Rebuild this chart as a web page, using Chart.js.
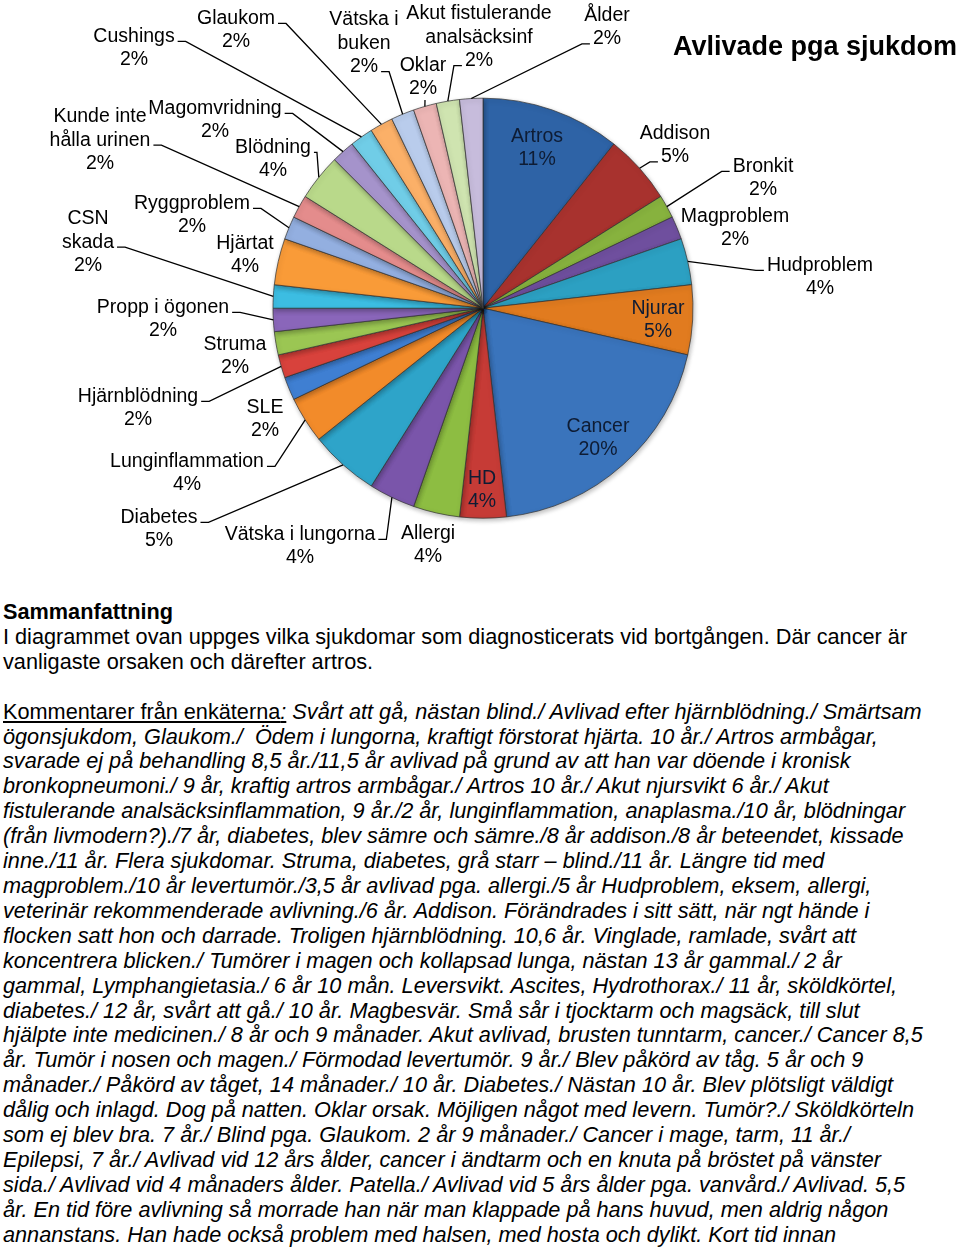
<!DOCTYPE html>
<html lang="sv">
<head>
<meta charset="utf-8">
<title>Avlivade pga sjukdom</title>
<script src="https://cdn.jsdelivr.net/npm/chart.js@4.4.1/dist/chart.umd.min.js"></script>
<style>
  html, body { margin: 0; padding: 0; background: #fff; }
  body { width: 960px; height: 1247px; overflow: hidden; position: relative;
         font-family: "Liberation Sans", Arial, sans-serif; color: #000; }
  #wrap { position: absolute; left: 0; top: 0; width: 960px; height: 590px; }
  #text { position: absolute; left: 3px; top: 600px; font-size: 21.7px; line-height: 24.92px; }
  #text div { white-space: pre; height: 24.92px; }
  #text .c { font-style: italic; }
</style>
</head>
<body>
<div id="wrap"><canvas id="pie" width="960" height="590"></canvas></div>

<div id="text">
<div><b>Sammanfattning</b></div>
<div>I diagrammet ovan uppges vilka sjukdomar som diagnosticerats vid bortgången. Där cancer är</div>
<div>vanligaste orsaken och därefter artros.</div>
<div></div>
<div><u>Kommentarer från enkäterna</u><i><u>:</u> Svårt att gå, nästan blind./ Avlivad efter hjärnblödning./ Smärtsam</i></div>
<div class="c">ögonsjukdom, Glaukom./  Ödem i lungorna, kraftigt förstorat hjärta. 10 år./ Artros armbågar,</div>
<div class="c">svarade ej på behandling 8,5 år./11,5 år avlivad på grund av att han var döende i kronisk</div>
<div class="c">bronkopneumoni./ 9 år, kraftig artros armbågar./ Artros 10 år./ Akut njursvikt 6 år./ Akut</div>
<div class="c">fistulerande analsäcksinflammation, 9 år./2 år, lunginflammation, anaplasma./10 år, blödningar</div>
<div class="c">(från livmodern?)./7 år, diabetes, blev sämre och sämre./8 år addison./8 år beteendet, kissade</div>
<div class="c">inne./11 år. Flera sjukdomar. Struma, diabetes, grå starr – blind./11 år. Längre tid med</div>
<div class="c">magproblem./10 år levertumör./3,5 år avlivad pga. allergi./5 år Hudproblem, eksem, allergi,</div>
<div class="c">veterinär rekommenderade avlivning./6 år. Addison. Förändrades i sitt sätt, när ngt hände i</div>
<div class="c">flocken satt hon och darrade. Troligen hjärnblödning. 10,6 år. Vinglade, ramlade, svårt att</div>
<div class="c">koncentrera blicken./ Tumörer i magen och kollapsad lunga, nästan 13 år gammal./ 2 år</div>
<div class="c">gammal, Lymphangietasia./ 6 år 10 mån. Leversvikt. Ascites, Hydrothorax./ 11 år, sköldkörtel,</div>
<div class="c">diabetes./ 12 år, svårt att gå./ 10 år. Magbesvär. Små sår i tjocktarm och magsäck, till slut</div>
<div class="c">hjälpte inte medicinen./ 8 år och 9 månader. Akut avlivad, brusten tunntarm, cancer./ Cancer 8,5</div>
<div class="c">år. Tumör i nosen och magen./ Förmodad levertumör. 9 år./ Blev påkörd av tåg. 5 år och 9</div>
<div class="c">månader./ Påkörd av tåget, 14 månader./ 10 år. Diabetes./ Nästan 10 år. Blev plötsligt väldigt</div>
<div class="c">dålig och inlagd. Dog på natten. Oklar orsak. Möjligen något med levern. Tumör?./ Sköldkörteln</div>
<div class="c">som ej blev bra. 7 år./ Blind pga. Glaukom. 2 år 9 månader./ Cancer i mage, tarm, 11 år./</div>
<div class="c">Epilepsi, 7 år./ Avlivad vid 12 års ålder, cancer i ändtarm och en knuta på bröstet på vänster</div>
<div class="c">sida./ Avlivad vid 4 månaders ålder. Patella./ Avlivad vid 5 års ålder pga. vanvård./ Avlivad. 5,5</div>
<div class="c">år. En tid före avlivning så morrade han när man klappade på hans huvud, men aldrig någon</div>
<div class="c">annanstans. Han hade också problem med halsen, med hosta och dylikt. Kort tid innan</div>
</div>

<script>
// slices, clockwise from 12 o'clock
var categories = ['Artros', 'Addison', 'Bronkit', 'Magproblem', 'Hudproblem', 'Njurar', 'Cancer', 'HD',
    'Allergi', 'Vätska i lungorna', 'Diabetes', 'Lunginflammation', 'SLE', 'Hjärnblödning', 'Struma',
    'Propp i ögonen', 'CSN skada', 'Hjärtat', 'Ryggproblem', 'Kunde inte hålla urinen', 'Blödning',
    'Magomvridning', 'Cushings', 'Glaukom', 'Vätska i buken', 'Oklar', 'Akut fistulerande analsäcksinf', 'Ålder'];
// number of dogs per cause (slice sizes)
var counts = [6, 3, 1, 1, 2, 3, 11, 2, 2, 2, 3, 2, 1, 1, 1, 1, 1, 2, 1, 1, 2, 1, 1, 1, 1, 1, 1, 1];
// percent printed on each label
var percents = [11, 5, 2, 2, 4, 5, 20, 4, 4, 4, 5, 4, 2, 2, 2, 2, 2, 4, 2, 2, 4, 2, 2, 2, 2, 2, 2, 2];
var colors = ['#2e63a6', '#a8322e', '#87b23e', '#6f4f9e', '#2ca0c2', '#e17b1f', '#3a74bc', '#c63b36',
    '#8dbd42', '#7a55aa', '#2ea4c9', '#f28b2a', '#3f7fd2', '#d8423c', '#9bc653', '#8a66ba', '#3cbde2',
    '#f99b38', '#93afe0', '#e48c8c', '#b9d98a', '#a593cb', '#70cde7', '#fbb068', '#b9ccec', '#ecb5b4',
    '#cfe4b0', '#c7bcdc'];

// label placement: offset of the text block from the pie centre, leader side and line
var wraps = {
    'Kunde inte hålla urinen': ['Kunde inte', 'hålla urinen'],
    'CSN skada': ['CSN', 'skada'],
    'Vätska i buken': ['Vätska i', 'buken'],
    'Akut fistulerande analsäcksinf': ['Akut fistulerande', 'analsäcksinf']
};
var labelLayout = [
    {dx: 54, dy: -160, inside: true},
    {dx: 192, dy: -163, side: 'L', line: 1},
    {dx: 280, dy: -130, side: 'L', line: 0},
    {dx: 252, dy: -80},
    {dx: 337, dy: -31, side: 'L', line: 0},
    {dx: 175, dy: 12, inside: true},
    {dx: 115, dy: 130, inside: true},
    {dx: -1, dy: 182, inside: true},
    {dx: -55, dy: 237},
    {dx: -183, dy: 238, side: 'R', line: 0},
    {dx: -324, dy: 221, side: 'R', line: 0},
    {dx: -296, dy: 165, side: 'R', line: 0},
    {dx: -218, dy: 111},
    {dx: -345, dy: 100, side: 'R', line: 0},
    {dx: -248, dy: 48},
    {dx: -320, dy: 11, side: 'R', line: 0},
    {dx: -395, dy: -66, side: 'R', line: 1},
    {dx: -238, dy: -53},
    {dx: -291, dy: -93, side: 'R', line: 0},
    {dx: -383, dy: -168, side: 'R', line: 1},
    {dx: -210, dy: -149, side: 'R', line: 0, tick: 3},
    {dx: -268, dy: -188, side: 'R', line: 0},
    {dx: -349, dy: -260, side: 'R', line: 0},
    {dx: -247, dy: -278, side: 'R', line: 0},
    {dx: -119, dy: -265, side: 'R', line: 2},
    {dx: -60, dy: -231, side: 'B', line: 1},
    {dx: -4, dy: -271, side: 'L', line: 2},
    {dx: 124, dy: -281, side: 'L', line: 1}
];

function shade(hex, amt) {
    var n = parseInt(hex.slice(1), 16);
    var r = n >> 16, g = (n >> 8) & 255, b = n & 255;
    var t = amt < 0 ? 0 : 255, p = Math.abs(amt);
    r = Math.round(r + (t - r) * p); g = Math.round(g + (t - g) * p); b = Math.round(b + (t - b) * p);
    return 'rgb(' + r + ',' + g + ',' + b + ')';
}

// glossy rim like the office chart style
function sliceFill(ctx) {
    var base = colors[ctx.dataIndex];
    var el = ctx.element;
    if (!el || !ctx.chart.chartArea) return base;
    var p = el.getProps(['x', 'y', 'outerRadius'], true);
    if (!p.outerRadius) return base;
    var g = ctx.chart.ctx.createRadialGradient(p.x, p.y, 0, p.x, p.y, p.outerRadius);
    g.addColorStop(0, shade(base, -0.05));
    g.addColorStop(0.8, base);
    g.addColorStop(0.95, shade(base, 0.14));
    g.addColorStop(1, shade(base, -0.3));
    return g;
}

// soft drop shadow under the slices
var shadowPlugin = {
    id: 'pieShadow',
    beforeDatasetsDraw: function (chart) {
        var c = chart.ctx;
        c.save();
        c.shadowColor = 'rgba(0,0,0,0.28)';
        c.shadowBlur = 5;
        c.shadowOffsetX = 1;
        c.shadowOffsetY = 2;
    },
    afterDatasetsDraw: function (chart) {
        chart.ctx.restore();
    }
};

var labelPlugin = {
    id: 'sliceLabels',
    afterDatasetsDraw: function (chart) {
        var ctx = chart.ctx;
        var meta = chart.getDatasetMeta(0);
        var lh = 23.5;
        ctx.save();
        ctx.font = '19.5px "Liberation Sans", Arial, sans-serif';
        ctx.textAlign = 'center';
        ctx.textBaseline = 'middle';
        meta.data.forEach(function (arc, i) {
            var p = arc.getProps(['x', 'y', 'startAngle', 'endAngle', 'outerRadius'], true);
            var mid = (p.startAngle + p.endAngle) / 2;
            var lay = labelLayout[i];
            var lines = (wraps[categories[i]] || [categories[i]]).concat([percents[i] + '%']);
            var cx = p.x + lay.dx, cy = p.y + lay.dy;
            var top = cy - (lines.length - 1) * lh / 2;
            ctx.fillStyle = lay.inside ? '#0e1c34' : '#000';
            lines.forEach(function (t, k) { ctx.fillText(t, cx, top + k * lh); });
            if (!lay.side) return;
            var ex = p.x + Math.cos(mid) * p.outerRadius;
            var ey = p.y + Math.sin(mid) * p.outerRadius;
            var ly = top + lay.line * lh + 5;
            var w = ctx.measureText(lines[lay.line]).width;
            var tick = lay.tick || 8;
            ctx.beginPath();
            if (lay.side === 'B') {
                ctx.moveTo(cx + 2, top + lay.line * lh + 11);
                ctx.lineTo(ex, ey);
            } else {
                var sx = lay.side === 'R' ? cx + w / 2 + 3 : cx - w / 2 - 3;
                var kx = lay.side === 'R' ? sx + tick : sx - tick;
                ctx.moveTo(sx, ly);
                ctx.lineTo(kx, ly);
                ctx.lineTo(ex, ey);
            }
            ctx.strokeStyle = '#000';
            ctx.lineWidth = 1.3;
            ctx.stroke();
        });
        ctx.restore();
    }
};

Chart.defaults.font.family = '"Liberation Sans", Arial, sans-serif';
Chart.defaults.color = '#000';

var ctx = document.getElementById('pie').getContext('2d');
var chart = new Chart(ctx, {
    type: 'pie',
    data: {
        labels: categories,
        datasets: [{
            data: counts,
            backgroundColor: sliceFill,
            borderColor: 'rgba(50,50,50,0.7)',
            borderWidth: 1,
            radius: 210
        }]
    },
    options: {
        responsive: false,
        animation: false,
        devicePixelRatio: 1,
        layout: { padding: { left: 9, right: 3, top: 0, bottom: 72 } },
        plugins: {
            legend: { display: false },
            tooltip: { enabled: false },
            title: {
                display: true,
                text: 'Avlivade pga sjukdom',
                align: 'end',
                font: { size: 27, weight: 'bold' },
                color: '#000',
                padding: { top: 31, bottom: 35 }
            }
        }
    },
    plugins: [shadowPlugin, labelPlugin]
});
</script>
</body>
</html>
